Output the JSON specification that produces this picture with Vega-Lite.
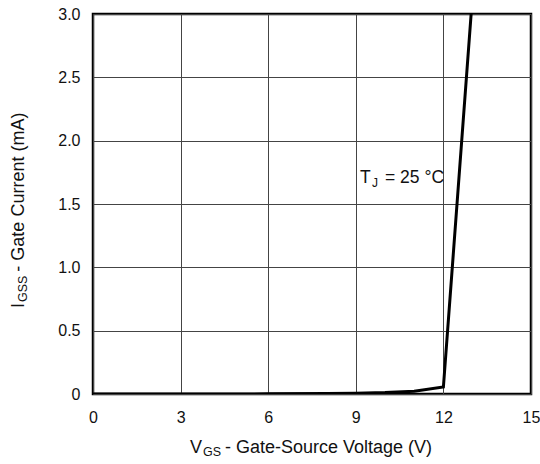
{
  "$schema": "https://vega.github.io/schema/vega-lite/v6.json",
  "width": 438,
  "height": 380,
  "autosize": {"type": "none"},
  "padding": {"left": 93, "top": 14, "right": 9, "bottom": 70},
  "background": "white",
  "config": {
    "font": "Liberation Sans",
    "view": {"stroke": "black", "strokeWidth": 2.5},
    "axis": {
      "grid": true,
      "gridColor": "#444",
      "gridWidth": 1,
      "gridOpacity": 1,
      "domain": false,
      "ticks": false,
      "tickSize": 0,
      "labelFont": "Liberation Sans",
      "labelFontSize": 16,
      "labelColor": "#111",
      "title": null
    }
  },
  "datasets": {
    "curve": [
      {"vgs": 0, "igss": 0},
      {"vgs": 2, "igss": 0},
      {"vgs": 4, "igss": 0},
      {"vgs": 6, "igss": 0.001},
      {"vgs": 8, "igss": 0.003},
      {"vgs": 9, "igss": 0.006},
      {"vgs": 10, "igss": 0.011},
      {"vgs": 11, "igss": 0.022},
      {"vgs": 12, "igss": 0.055},
      {"vgs": 12.95, "igss": 3.0}
    ]
  },
  "layer": [
    {
      "data": {"name": "curve"},
      "mark": {"type": "line", "color": "black", "strokeWidth": 3, "clip": true},
      "encoding": {
        "x": {
          "field": "vgs", "type": "quantitative",
          "scale": {"domain": [0, 15], "nice": false, "zero": false},
          "axis": {"values": [0, 3, 6, 9, 12, 15], "labelPadding": 15, "labelFlush": false}
        },
        "y": {
          "field": "igss", "type": "quantitative",
          "scale": {"domain": [0, 3], "nice": false},
          "axis": {
            "values": [0, 0.5, 1, 1.5, 2, 2.5, 3],
            "labelPadding": 13,
            "labelFlush": false,
            "labelExpr": "datum.value == 0 ? '0' : format(datum.value, '.1f')"
          }
        }
      }
    },
    {
      "data": {"values": [{}]},
      "mark": {"type": "text", "fontSize": 17.5, "align": "left", "baseline": "alphabetic", "color": "#111"},
      "encoding": {
        "x": {"datum": 9.144, "type": "quantitative"},
        "y": {"datum": 1.662, "type": "quantitative"},
        "text": {"value": "T"}
      }
    },
    {
      "data": {"values": [{}]},
      "mark": {"type": "text", "fontSize": 12, "align": "left", "baseline": "alphabetic", "dy": 4, "color": "#111"},
      "encoding": {
        "x": {"datum": 9.555, "type": "quantitative"},
        "y": {"datum": 1.662, "type": "quantitative"},
        "text": {"value": "J"}
      }
    },
    {
      "data": {"values": [{}]},
      "mark": {"type": "text", "fontSize": 17.5, "align": "left", "baseline": "alphabetic", "color": "#111"},
      "encoding": {
        "x": {"datum": 10.0, "type": "quantitative"},
        "y": {"datum": 1.662, "type": "quantitative"},
        "text": {"value": "= 25 °C"}
      }
    },
    {
      "data": {"values": [{}]},
      "mark": {"type": "text", "fontSize": 18, "align": "left", "baseline": "alphabetic", "color": "#111"},
      "encoding": {
        "x": {"datum": 3.322, "type": "quantitative"},
        "y": {"datum": -0.463, "type": "quantitative"},
        "text": {"value": "V"}
      }
    },
    {
      "data": {"values": [{}]},
      "mark": {"type": "text", "fontSize": 12.5, "align": "left", "baseline": "alphabetic", "dy": 3, "color": "#111"},
      "encoding": {
        "x": {"datum": 3.767, "type": "quantitative"},
        "y": {"datum": -0.463, "type": "quantitative"},
        "text": {"value": "GS"}
      }
    },
    {
      "data": {"values": [{}]},
      "mark": {"type": "text", "fontSize": 18, "align": "left", "baseline": "alphabetic", "color": "#111"},
      "encoding": {
        "x": {"datum": 4.521, "type": "quantitative"},
        "y": {"datum": -0.463, "type": "quantitative"},
        "text": {"value": "- Gate-Source Voltage (V)"}
      }
    },
    {
      "data": {"values": [{}]},
      "mark": {"type": "text", "fontSize": 18, "align": "left", "baseline": "alphabetic", "angle": 270, "color": "#111"},
      "encoding": {
        "x": {"datum": -2.363, "type": "quantitative"},
        "y": {"datum": 0.679, "type": "quantitative"},
        "text": {"value": "I"}
      }
    },
    {
      "data": {"values": [{}]},
      "mark": {"type": "text", "fontSize": 12.5, "align": "left", "baseline": "alphabetic", "angle": 270, "dy": 3, "color": "#111"},
      "encoding": {
        "x": {"datum": -2.363, "type": "quantitative"},
        "y": {"datum": 0.726, "type": "quantitative"},
        "text": {"value": "GSS"}
      }
    },
    {
      "data": {"values": [{}]},
      "mark": {"type": "text", "fontSize": 18, "align": "left", "baseline": "alphabetic", "angle": 270, "color": "#111"},
      "encoding": {
        "x": {"datum": -2.363, "type": "quantitative"},
        "y": {"datum": 0.966, "type": "quantitative"},
        "text": {"value": "- Gate Current (mA)"}
      }
    }
  ]
}
